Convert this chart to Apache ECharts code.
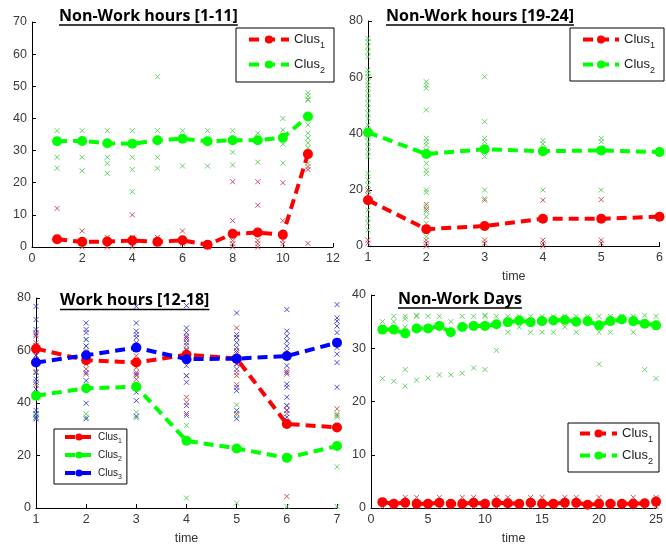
<!DOCTYPE html>
<html><head><meta charset="utf-8">
<script src="https://cdn.jsdelivr.net/npm/echarts@6/dist/echarts.min.js"></script>
<style>html,body{margin:0;padding:0;background:#fff}#c{width:666px;height:546px}</style>
</head><body><div id="c"></div>
<script>
// ---------- DATA ----------
// Panel A: Non-Work hours [1-11]
const aTime = [1,2,3,4,5,6,7,8,9,10,11];
const aClus1 = [2.4,1.6,1.7,2.0,1.6,2.1,0.7,4.1,4.5,3.8,28.9];
const aClus2 = [32.9,33.0,32.3,32.1,33.2,33.7,32.9,33.2,33.2,34.0,40.6];
const aPts1 = [[12,3,2],[5,1,0],[3,1,0],[10,3,0],[3,1],[5,1],[1,0],[20.3,8.2,2,1,0],[20.3,13,2,1,0],[20,8.2,2,1],[25,24.1,1.1]];
const aPts2 = [[36.2,27.9,24.5],[36.2,27.9,23.7],[36.2,27.9,26,22.9],[36.2,27.9,24.1,17.2],[53,36.2,27.9,24.5],[36.2,25.2],[36.2,25.2],[36.2,29.5,25.5],[35.4,26.4],[40,36.4,32,26.1],[48,47,46,45.7,38,35.4,33.9,32.4,30.9,26]];
// Panel B: Non-Work hours [19-24]
const bTime = [1,2,3,4,5,6];
const bClus1 = [16.3,6.0,7.1,9.7,9.7,10.4];
const bClus2 = [40.4,32.7,34.4,33.7,34.0,33.4];
const bPts1 = [[19.9,18.1,2.1,1],[14.8,13,2.1,1,0],[16.3,2.1,1],[16.3,2.1,1,0],[16.5,2.1,1],[]];
const bPts2 = [[73.8,72.6,70.9,69.1,67.3,62.6,61.4,60.2,58.4,57.2,56.1,54.3,52.5,50.7,49,47.2,45.4,43,41.2,38.9,37.1,35.3,33.5,31.8,25.8,23.5,21.7,19.3,15.8,12.8,9.8,8.1,5.7],
               [58.4,57.2,56.1,48.4,38.3,37.1,35.9,34.1,29.4,27,25.8,19.9,19,14,12.2,10.4,8.1,5.1,3.3],
               [60.2,44.2,38.3,37.1,31.8,19.9,16.9],[37.5,36.3,19.9],[38.3,37.1,19.9],[]];
// Panel C: Work hours [12-18]
const cTime = [1,2,3,4,5,6,7];
const cClus1 = [60.7,56.3,55.4,58.4,56.9,32.0,30.7];
const cClus2 = [42.8,45.6,46.2,25.6,22.7,19.1,23.6];
const cClus3 = [55.4,58.2,61.1,56.7,56.9,57.9,63.0];
const cPts1 = [[66.8,65.5,63,61.7,58,52,47],[60,56.7,54.8,52.9,51],[58,53.5,51.6,50.4,49],[65.5,64.2,62,60,50.4,42.2,40.3,36],[68.6,65,60,55,51.6,50.4,47,36],[52.3,51,39,37.2,36,4.4],[37.8,35.3]];
const cPts2 = [[51.6,48,35.9,35.3,34],[64.2,61.7,35.9,34.6],[36.5,34.3],[31.5,3.8],[39.3,35.3,1.9],[0.6],[35.9,34.6,15.7,0.6]];
const cPts3 = [[76.8,71.8,68,66.1,62,58.2,51.6,49.1,47.9,45.3,42,37.2,35.9,34.6,34],
               [70.5,68,66.8,64.2,61.7,59.2,51.6,48.5,39.9,34],
               [76.8,70.5,67.4,66.1,64.9,63,60.5,51,44.1,40.9,35],
               [77.1,68.6,66.8,64.9,63,60.5,54.2,50.4,47.9,39,35.3],
               [74.3,66.1,64.9,63,61.1,59.2,56.7,54.8,52.9,46,44.7,37.2,34],
               [75.6,67.4,65.5,63.6,61.7,59.8,54.2,51.6,47.2,46,42.2,39,37.2,34.6],
               [77.5,72.4,71.2,69.3,66.8,63,61.1,58.6,55.4,46]];
// Panel D: Non-Work Days
const dTime = [1,2,3,4,5,6,7,8,9,10,11,12,13,14,15,16,17,18,19,20,21,22,23,24,25];
const dClus1 = [1.1,0.8,1.0,0.8,0.8,1.0,0.8,0.8,1.0,0.8,1.0,0.9,0.8,1.0,0.8,0.8,1.0,1.0,0.6,0.8,0.8,0.8,0.8,0.9,1.2];
const dClus2 = [33.5,33.5,32.8,33.7,33.7,34.2,33.0,34.0,34.2,34.2,34.5,34.9,35.2,34.9,35.1,35.2,35.3,35.0,35.1,34.3,35.1,35.4,35.1,34.6,34.3];
const dPts1 = [[0.3],[0.3],[2,0.3],[2,0.3],[0.3],[2,0.3],[0.3],[2,0.3],[2,0.3],[0.3],[2,0.3],[2,0.3],[0.3],[2,0.3],[2,0.3],[0.3],[2,0.3],[2,0.3],[0.3],[2,0.3],[0.3],[0.3],[2,0.3],[0.3],[2,0.3]];
const dPts2 = [[35,24.3],[36,35,23.8],[36,35.5,34,26,22.9],[36.2,36,24],[36,24.4],[36,25],[35,25],[36,25.3],[36,26.3],[36.2,36,26],[36,29.6],[36,33],[36,34],[36,33],[36,33],[36,33],[36,34],[36,33],[36],[36,33,27],[36,33],[36],[36,33],[36.2,26],[36,24.3]];
const legendNames = ['Clus1','Clus2','Clus3'];
const titles = ['Non-Work hours [1-11]','Non-Work hours [19-24]','Work hours [12-18]','Non-Work Days'];

// ---------- BUILD ----------
const RED='#ff0000', GREEN='#00ff00', BLUE='#0000ff';
const XRED='#c8404c', XGREEN='#55cc55', XBLUE='#3a3ad0';
const FONT='Liberation Sans';
const CROSS='path://M0,0L10,10M10,0L0,10';

function pairs(xs, ys){ return xs.map((x,i)=>[x,ys[i]]); }
function cloud(xs, lists){ const out=[]; lists.forEach((l,i)=>l.forEach(v=>out.push([xs[i],v]))); return out; }
function lineS(name, idx, xs, ys, color){
  return {type:'line', name:name, xAxisIndex:idx, yAxisIndex:idx, data:pairs(xs,ys), z:3,
    symbol:'circle', symbolSize:10, itemStyle:{color:color},
    lineStyle:{color:color, width:4, type:[10,6]}, animation:false, clip:false};
}
function scatS(idx, xs, lists, color){
  return {type:'scatter', name:'pts'+idx+color, xAxisIndex:idx, yAxisIndex:idx, data:cloud(xs,lists), z:2,
    symbol:CROSS, symbolSize:5, itemStyle:{color:'transparent', borderColor:color, borderWidth:1, opacity:0.9},
    animation:false, silent:true};
}
const axisCommon = {splitLine:{show:false}, axisLine:{onZero:false, lineStyle:{color:'#000', width:1}},
  axisTick:{inside:true, length:4, lineStyle:{color:'#000'}},
  axisLabel:{color:'#3a3a3a', fontFamily:FONT, fontSize:12.5}};
function xA(idx,min,max,interval,name){
  return Object.assign({}, axisCommon, {type:'value', gridIndex:idx, min:min, max:max, interval:interval,
    name:name, nameLocation:'middle', nameGap:24, nameTextStyle:{color:'#333', fontFamily:FONT, fontSize:12.5},
    axisLabel:Object.assign({}, axisCommon.axisLabel, {margin:5})});
}
function yA(idx,min,max,interval){
  return Object.assign({}, axisCommon, {type:'value', gridIndex:idx, min:min, max:max, interval:interval,
    axisLabel:Object.assign({}, axisCommon.axisLabel, {margin:5})});
}
function legend(left, top, names, iw, ih, fs, gap, pad){
  return {left:left, top:top, orient:'vertical', data:names, itemWidth:iw, itemHeight:ih, itemGap:gap,
    padding:pad, borderColor:'#000', borderWidth:1, backgroundColor:'#fff', borderRadius:0,
    selectedMode:false, lineStyle:{width:4},
    formatter:function(n){ return '{m|Clus}{s|'+n.slice(4)+'}'; },
    textStyle:{color:'#222', fontFamily:FONT, rich:{
      m:{fontSize:fs, fontFamily:FONT, color:'#222'},
      s:{fontSize:Math.round(fs*0.7), fontFamily:FONT, color:'#222', padding:[Math.round(fs*0.9),0,0,0]}}}};
}

const series = [
  scatS(0,aTime,aPts1,XRED), scatS(0,aTime,aPts2,XGREEN),
  lineS('Clus1',0,aTime,aClus1,RED), lineS('Clus2',0,aTime,aClus2,GREEN),
  scatS(1,bTime,bPts1,XRED), scatS(1,bTime,bPts2,XGREEN),
  lineS('Clus1',1,bTime,bClus1,RED), lineS('Clus2',1,bTime,bClus2,GREEN),
  scatS(2,cTime,cPts1,XRED), scatS(2,cTime,cPts2,XGREEN), scatS(2,cTime,cPts3,XBLUE),
  lineS('Clus1',2,cTime,cClus1,RED), lineS('Clus2',2,cTime,cClus2,GREEN), lineS('Clus3',2,cTime,cClus3,BLUE),
  scatS(3,dTime,dPts1,XRED), scatS(3,dTime,dPts2,XGREEN),
  lineS('Clus1',3,dTime,dClus1,RED), lineS('Clus2',3,dTime,dClus2,GREEN)
];

const gridPos = [
  {left:32, top:22, width:301, height:225},
  {left:368, top:21, width:295, height:225},
  {left:36, top:298, width:301, height:212},
  {left:371, top:295, width:290.5, height:215}
];
// baseline positions of the panel titles
const titlePos = [[59,22.5],[386,22.5],[60,307],[398,305.5]];

const ctx = document.createElement('canvas').getContext('2d');
const TFONT = 'bold 16px "Open Sans"';
ctx.font = TFONT;
const graphics = [];
titles.forEach((t,i)=>{
  const w = ctx.measureText(t).width;
  const [x,y] = titlePos[i];
  graphics.push({type:'text', left:x, top:y-14.5, z:10, style:{text:t, font:TFONT, fill:'#000'}});
  graphics.push({type:'line', z:10, shape:{x1:x, y1:y+2.5, x2:x+w, y2:y+2.5}, style:{stroke:'#000', lineWidth:1.5}});
});

const option = {
  animation:false,
  grid: gridPos.map(g=>Object.assign({containLabel:false, show:false}, g)),
  xAxis: [xA(0,0,12,2,''), xA(1,1,6,1,'time'), xA(2,1,7,1,'time'), xA(3,0,25,5,'time')],
  yAxis: [yA(0,0,70,10), yA(1,0,80,20), yA(2,0,80,20), yA(3,0,40,10)],
  legend: [
    legend(236,28,['Clus1','Clus2'],40,10,13,8,[5,9,7,11]),
    legend(570,28,['Clus1','Clus2'],36,10,13,8,[5,9,6,11]),
    legend(54,429,['Clus1','Clus2','Clus3'],28,9,10,5,[3,5,3,9]),
    legend(568,423,['Clus1','Clus2'],37,10,13,5,[4,6,6,10])
  ],
  graphic: graphics,
  series: series
};
const chart = echarts.init(document.getElementById('c'), null, {renderer:'canvas'});
chart.setOption(option);
</script></body></html>
